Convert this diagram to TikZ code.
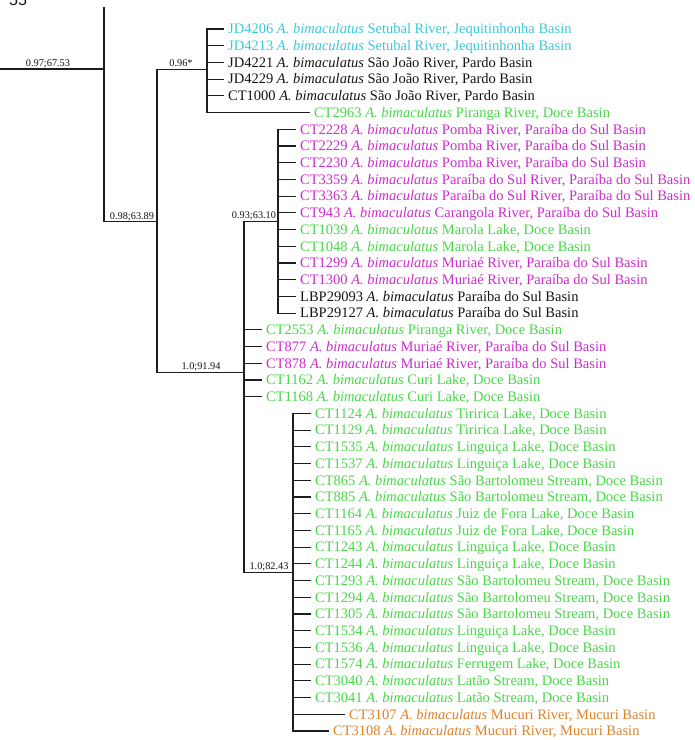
\documentclass[tikz,border=0pt]{standalone}
\usepackage{fontspec}
\setmainfont{Liberation Serif}
\newfontfamily\labsans{Liberation Sans}
\definecolor{tcyan}{HTML}{3CC8DA}
\definecolor{tgreen}{HTML}{48D848}
\definecolor{tmag}{HTML}{CC2ECC}
\definecolor{torange}{HTML}{E08228}
\definecolor{tblack}{HTML}{151515}
\definecolor{tline}{HTML}{1E1E1E}
\tikzset{
  branch/.style={draw=tline, line width=1.2pt, line cap=rect},
  leaftext/.style={anchor=west, inner xsep=5pt, inner ysep=0pt, font=\fontsize{14.5}{16}\selectfont, text height=9.6pt, text depth=0pt},
  suplabel/.style={anchor=base, inner sep=0pt, font=\fontsize{10.3}{12}\selectfont, text=tblack},
}
% \leafat{index}{parent x}{line end x}{colour}{id}{place}
\newcommand\leafat[6]{%
  \pgfmathsetmacro\ry{29+(#1-1)*16.714}%
  \coordinate (S#1) at (#2,\ry);
  \node[leaftext, text=#4] (L#1) at (#3,\ry) {#5 \textit{A. bimaculatus} #6};
  \draw[branch] (S#1) -- (L#1.west);
}
\begin{document}
\begin{tikzpicture}[x=1pt,y=-1pt]
\useasboundingbox (0,0) rectangle (695,740);
\fill[white] (0,0) rectangle (695,740);
\node[anchor=base west, inner sep=0pt, font=\labsans\fontsize{16}{18}\selectfont, text=tblack] (topnum) at (9,5) {55};

% internal node coordinates
\coordinate (rtop) at (104,8);
\coordinate (rleft) at (0,69);
\coordinate (rmid) at (104,69);
\coordinate (nA) at (104,221.6);
\coordinate (nAv) at (157,221.6);
\coordinate (nB) at (207,69.5);
\coordinate (nC) at (244,372.8);
\coordinate (nD) at (278,221.2);
\coordinate (nE) at (293,572.2);

% backbone
\draw[branch] (rleft) -- (rmid);
\draw[branch] (rtop) -- (nA) -- (nAv);
\draw[branch] (157,69.5) -- (157,372.8);
\draw[branch] (157,69.5) -- (nB);
\draw[branch] (157,372.8) -- (nC);
\draw[branch] (244,221.2) -- (nD);
\draw[branch] (244,221.2) -- (244,572.2) -- (nE);
\draw[branch] (207,29) -- (207,112.6);
\draw[branch] (278,129.3) -- (278,313.1);
\draw[branch] (293,413.4) -- (293,731);

% support labels
\node[suplabel] (s1) at (48,66) {0.97;67.53};
\node[suplabel] (s2) at (181,66) {0.96*};
\node[suplabel] (s3) at (132,219) {0.98;63.89};
\node[suplabel] (s4) at (254,218) {0.93;63.10};
\node[suplabel] (s5) at (201,369) {1.0;91.94};
\node[suplabel] (s6) at (269,569) {1.0;82.43};

% leaves
\leafat{1}{207}{223}{tcyan}{JD4206}{Setubal River, Jequitinhonha Basin}
\leafat{2}{207}{223}{tcyan}{JD4213}{Setubal River, Jequitinhonha Basin}
\leafat{3}{207}{223}{tblack}{JD4221}{São João River, Pardo Basin}
\leafat{4}{207}{223}{tblack}{JD4229}{São João River, Pardo Basin}
\leafat{5}{207}{223}{tblack}{CT1000}{São João River, Pardo Basin}
\leafat{6}{207}{309}{tgreen}{CT2963}{Piranga River, Doce Basin}
\leafat{7}{278}{295}{tmag}{CT2228}{Pomba River, Paraíba do Sul Basin}
\leafat{8}{278}{295}{tmag}{CT2229}{Pomba River, Paraíba do Sul Basin}
\leafat{9}{278}{295}{tmag}{CT2230}{Pomba River, Paraíba do Sul Basin}
\leafat{10}{278}{295}{tmag}{CT3359}{Paraíba do Sul River, Paraíba do Sul Basin}
\leafat{11}{278}{295}{tmag}{CT3363}{Paraíba do Sul River, Paraíba do Sul Basin}
\leafat{12}{278}{295}{tmag}{CT943}{Carangola River, Paraíba do Sul Basin}
\leafat{13}{278}{295}{tgreen}{CT1039}{Marola Lake, Doce Basin}
\leafat{14}{278}{295}{tgreen}{CT1048}{Marola Lake, Doce Basin}
\leafat{15}{278}{295}{tmag}{CT1299}{Muriaé River, Paraíba do Sul Basin}
\leafat{16}{278}{295}{tmag}{CT1300}{Muriaé River, Paraíba do Sul Basin}
\leafat{17}{278}{295}{tblack}{LBP29093}{Paraíba do Sul Basin}
\leafat{18}{278}{295}{tblack}{LBP29127}{Paraíba do Sul Basin}
\leafat{19}{244}{261}{tgreen}{CT2553}{Piranga River, Doce Basin}
\leafat{20}{244}{261}{tmag}{CT877}{Muriaé River, Paraíba do Sul Basin}
\leafat{21}{244}{261}{tmag}{CT878}{Muriaé River, Paraíba do Sul Basin}
\leafat{22}{244}{261}{tgreen}{CT1162}{Curi Lake, Doce Basin}
\leafat{23}{244}{261}{tgreen}{CT1168}{Curi Lake, Doce Basin}
\leafat{24}{293}{310}{tgreen}{CT1124}{Tiririca Lake, Doce Basin}
\leafat{25}{293}{310}{tgreen}{CT1129}{Tiririca Lake, Doce Basin}
\leafat{26}{293}{310}{tgreen}{CT1535}{Linguiça Lake, Doce Basin}
\leafat{27}{293}{310}{tgreen}{CT1537}{Linguiça Lake, Doce Basin}
\leafat{28}{293}{310}{tgreen}{CT865}{São Bartolomeu Stream, Doce Basin}
\leafat{29}{293}{310}{tgreen}{CT885}{São Bartolomeu Stream, Doce Basin}
\leafat{30}{293}{310}{tgreen}{CT1164}{Juiz de Fora Lake, Doce Basin}
\leafat{31}{293}{310}{tgreen}{CT1165}{Juiz de Fora Lake, Doce Basin}
\leafat{32}{293}{310}{tgreen}{CT1243}{Linguiça Lake, Doce Basin}
\leafat{33}{293}{310}{tgreen}{CT1244}{Linguiça Lake, Doce Basin}
\leafat{34}{293}{310}{tgreen}{CT1293}{São Bartolomeu Stream, Doce Basin}
\leafat{35}{293}{310}{tgreen}{CT1294}{São Bartolomeu Stream, Doce Basin}
\leafat{36}{293}{310}{tgreen}{CT1305}{São Bartolomeu Stream, Doce Basin}
\leafat{37}{293}{310}{tgreen}{CT1534}{Linguiça Lake, Doce Basin}
\leafat{38}{293}{310}{tgreen}{CT1536}{Linguiça Lake, Doce Basin}
\leafat{39}{293}{310}{tgreen}{CT1574}{Ferrugem Lake, Doce Basin}
\leafat{40}{293}{310}{tgreen}{CT3040}{Latão Stream, Doce Basin}
\leafat{41}{293}{310}{tgreen}{CT3041}{Latão Stream, Doce Basin}
\leafat{42}{293}{344}{torange}{CT3107}{Mucuri River, Mucuri Basin}
\leafat{43}{293}{328}{torange}{CT3108}{Mucuri River, Mucuri Basin}
\end{tikzpicture}
\end{document}
